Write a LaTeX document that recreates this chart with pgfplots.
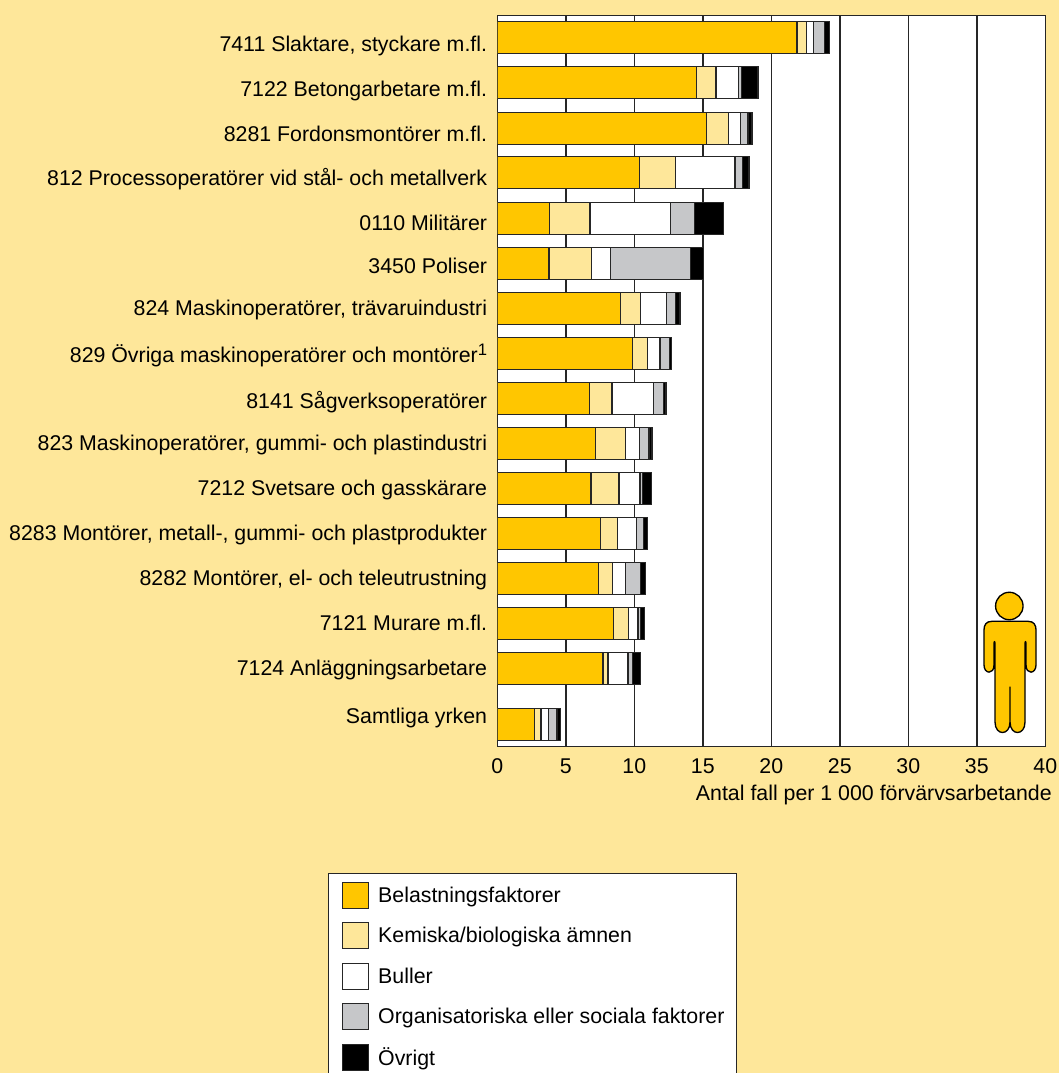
\documentclass[border=0pt]{standalone}
\usepackage{pgfplots}
\pgfplotsset{compat=1.18}
\usepackage{fontspec}
\setmainfont{Liberation Sans}
\definecolor{bg}{RGB}{254,231,154}
\definecolor{cA}{RGB}{255,198,0}
\definecolor{cB}{RGB}{254,231,154}
\definecolor{cC}{RGB}{255,255,255}
\definecolor{cD}{RGB}{198,199,201}
\definecolor{cE}{RGB}{0,0,0}
\begin{document}
\begin{tikzpicture}
\path[use as bounding box] (0,0) rectangle (794.25pt,-804.75pt);
\clip (0,0) rectangle (794.25pt,-804.75pt);
\fill[bg] (0,0) rectangle (794.25pt,-804.75pt);
\begin{axis}[
  at={(373pt,-560pt)}, anchor=south west,
  scale only axis, width=411pt, height=548.6pt,
  xmin=0, xmax=40, ymin=15, ymax=746.5, y dir=reverse,
  xbar stacked, bar width=24pt,
  axis background/.style={fill=white},
  axis line style={line width=1pt,black!85},
  xmajorgrids, major grid style={line width=1pt,black!85},
  xtick={0,5,...,40}, tick style={draw=none},
  ytick={51,96,141,185.7,230.7,273.3,315,362.7,408.3,450.7,495,540.7,585,630,675,723.3},
  yticklabels={{7411 Slaktare, styckare m.fl.},7122 Betongarbetare m.fl.,8281 Fordonsmontörer m.fl.,812 Processoperatörer vid stål- och metallverk,0110 Militärer,3450 Poliser,{824 Maskinoperatörer, trävaruindustri},829 Övriga maskinoperatörer och montörer\raisebox{5.7pt}{\fontsize{12.5pt}{13pt}\selectfont 1},8141 Sågverksoperatörer,{823 Maskinoperatörer, gummi- och plastindustri},7212 Svetsare och gasskärare,{8283 Montörer, metall-, gummi- och plastprodukter},{8282 Montörer, el- och teleutrustning},7121 Murare m.fl.,7124 Anläggningsarbetare,Samtliga yrken},
  yticklabel style={font=\fontsize{16pt}{19pt}\selectfont, inner xsep=0pt, anchor=base east, xshift=-7.5pt},
  xticklabel style={font=\fontsize{16pt}{19pt}\selectfont, /pgf/number format/assume math mode=true, yshift=-5.5pt},
  legend style={at={(-0.3084,-0.1729)}, anchor=north west, draw=black!85, line width=.8pt, fill=white,
    font=\fontsize{16pt}{19pt}\selectfont, row sep=10pt, inner xsep=7pt, inner ysep=6pt},
  legend cell align=left,
  legend image code/.code={\path (0pt,0pt) (27pt,0pt);\draw[line width=.9pt,#1] (3pt,-9.75pt) rectangle (22.5pt,9.75pt);},
]
\addplot[fill=cA,draw=black!85,line width=1pt] coordinates {(21.87,37.5)(14.53,82.5)(15.28,128)(10.39,172.5)(3.8,218)(3.77,263)(9.0,308)(9.88,353)(6.72,398)(7.15,443.3)(6.84,488)(7.54,533.5)(7.4,578.5)(8.47,623.5)(7.71,668.5)(2.73,724)};
\addplot[fill=cB,draw=black!85,line width=1pt] coordinates {(0.68,37.5)(1.43,82.5)(1.61,128)(2.63,172.5)(2.96,218)(3.12,263)(1.44,308)(1.09,353)(1.65,398)(2.19,443.3)(2.04,488)(1.22,533.5)(1.02,578.5)(1.09,623.5)(0.37,668.5)(0.46,724)};
\addplot[fill=cC,draw=black!85,line width=1pt] coordinates {(0.53,37.5)(1.64,82.5)(0.85,128)(4.33,172.5)(5.89,218)(1.38,263)(1.92,308)(0.9,353)(3.04,398)(1.05,443.3)(1.53,488)(1.41,533.5)(0.92,578.5)(0.71,623.5)(1.46,668.5)(0.53,724)};
\addplot[fill=cD,draw=black!85,line width=1pt] coordinates {(0.81,37.5)(0.23,82.5)(0.56,128)(0.55,172.5)(1.75,218)(5.83,263)(0.64,308)(0.71,353)(0.71,398)(0.68,443.3)(0.19,488)(0.49,533.5)(1.12,578.5)(0.17,623.5)(0.34,668.5)(0.64,724)};
\addplot[fill=cE,draw=black!85,line width=1pt] coordinates {(0.34,37.5)(1.2,82.5)(0.3,128)(0.47,172.5)(2.1,218)(0.96,263)(0.33,308)(0.14,353)(0.18,398)(0.22,443.3)(0.67,488)(0.31,533.5)(0.37,578.5)(0.31,623.5)(0.56,668.5)(0.24,724)};
\legend{Belastningsfaktorer,Kemiska/biologiska ämnen,Buller,Organisatoriska eller sociala faktorer,Övrigt}
\end{axis}
\begin{scope}[x=0.75pt,y=-0.75pt]
\node[anchor=east,font=\fontsize{16pt}{19pt}\selectfont,inner sep=0pt] at (1052,794.5) {Antal fall per 1 000 förvärvsarbetande};
% person icon
\draw[fill=cA,line width=1pt] (1009.3,606) circle (10.3pt);
\draw[fill=cA,line width=1pt,line join=round]
  (992,621.3) -- (1028,621.3) .. controls (1034,621.3) and (1036,625) .. (1036,630)
  -- (1036,665) .. controls (1036,674) and (1026,675) .. (1026,665) -- (1026,643)
  .. controls (1026,641) and (1025,641) .. (1025,643)
  -- (1025,722) .. controls (1025,736) and (1010,736) .. (1010,722) -- (1010,687)
  -- (1010,722) .. controls (1010,736) and (995,736) .. (995,722) -- (995,643)
  .. controls (995,641) and (994,641) .. (994,643) -- (994,665)
  .. controls (994,675) and (984,674) .. (984,665) -- (984,630)
  .. controls (984,625) and (986,621.3) .. (992,621.3) -- cycle;
\end{scope}
\end{tikzpicture}
\end{document}
